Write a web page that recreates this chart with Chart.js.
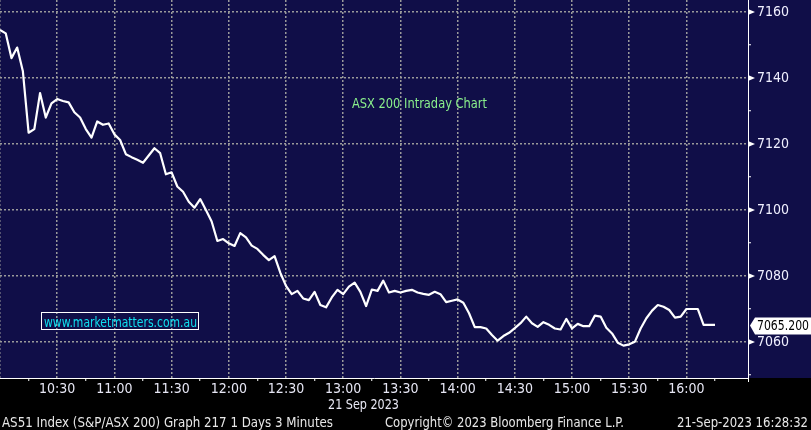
<!DOCTYPE html>
<html><head><meta charset="utf-8">
<script src="https://cdn.jsdelivr.net/npm/chart.js@4.4.0/dist/chart.umd.min.js"></script>
<style>
html,body{margin:0;padding:0;background:#000;}
#wrap{position:relative;width:811px;height:430px;background:#000;overflow:hidden;}
#c{position:absolute;left:0;top:0;}
.t{position:absolute;white-space:nowrap;transform-origin:0 50%;font-family:'Liberation Sans Narrow','DejaVu Sans Condensed','Liberation Sans',sans-serif;}
#wm{position:absolute;left:41px;top:312px;width:156px;height:16px;border:1px solid #fff;}
</style></head><body>
<div id="wrap">
<canvas id="c" width="811" height="430"></canvas>
<div id="wm"></div>
<div class="t" id="title" style="color:#8af08c">ASX 200 Intraday Chart</div>
<div class="t" id="wmt" style="color:#10e0f0">www.marketmatters.com.au</div>
<div class="t" id="date" style="color:#e8e8f4">21 Sep 2023</div>
<div class="t" id="f1" style="color:#e8e8e8">AS51 Index (S&amp;P/ASX 200) Graph 217 1 Days 3 Minutes</div>
<div class="t" id="f2" style="color:#e8e8e8">Copyright© 2023 Bloomberg Finance L.P.</div>
<div class="t" id="f3" style="color:#e8e8e8">21-Sep-2023 16:28:32</div>
</div>
<script>
// ---- data ----
const startTime = "10:00";
const stepMinutes = 3;
const values = [
7154.5,7153.5,7146,7149.2,7142,7123.4,7124.5,7135.4,7128,7132.3,
7133.6,7133,7132.6,7129.6,7128,7124.5,7121.9,7126.8,7125.8,7126.2,
7122.9,7121.2,7116.9,7116,7115.2,7114.3,7116.5,7118.7,7117.2,7110.8,
7111.4,7107.1,7105.5,7102.5,7100.7,7103.3,7100,7096.5,7090.6,7091.2,
7089.9,7089.1,7093,7091.7,7089.2,7088.2,7086.4,7084.8,7086,7081,
7077,7074.5,7075.5,7073.2,7072.7,7075.2,7071.2,7070.5,7073.5,7075.8,
7074.5,7076.8,7078,7075.2,7070.9,7075.9,7075.5,7078.6,7075,7075.5,
7075,7075.5,7075.8,7075,7074.6,7074.3,7075.2,7074.5,7072.1,7072.5,
7072.9,7071.9,7068.7,7064.5,7064.5,7064.1,7062.1,7060.4,7061.8,7062.8,
7064.2,7065.7,7067.7,7065.7,7064.6,7066,7065.2,7064.1,7063.8,7067,
7064.1,7065.5,7064.8,7064.8,7068,7067.7,7064.3,7062.6,7059.8,7058.9,
7059.3,7060.1,7064.1,7067.2,7069.5,7071.2,7070.7,7069.7,7067.4,7067.7,
7070,7070,7070,7065.2,7065.2,7065.2
];
const timeLabels = ["10:30","11:00","11:30","12:00","12:30","13:00","13:30","14:00","14:30","15:00","15:30","16:00"];
const priceLabels = [7060,7080,7100,7120,7140,7160];
const lastLabel = "7065.200";

// category times (3-minute bars) -> minutes since session start
function toMin(s){const p=s.split(':');return (+p[0])*60+(+p[1]);}
const t0 = toMin(startTime);
const points = values.map((v,i)=>({x:i*stepMinutes, y:v}));
const labelMap = {};
timeLabels.forEach(s=>{labelMap[toMin(s)-t0]=s;});

const FONT = "'Liberation Sans Narrow','DejaVu Sans Condensed','Liberation Sans',sans-serif";
const NAVY = '#100e48';
const GRID = '#9a9a9a';

const bgPlugin = {
  id:'bg',
  beforeDraw(chart){
    const {ctx, chartArea} = chart;
    ctx.save();
    ctx.fillStyle = NAVY;
    ctx.fillRect(0,0,chart.width,chartArea.bottom);
    ctx.restore();
  },
  afterDraw(chart){
    const {ctx, chartArea} = chart;
    const ys = chart.scales.y;
    ctx.save();
    // major tick flags
    ctx.fillStyle = '#ffffff';
    priceLabels.forEach(v=>{
      const py = ys.getPixelForValue(v);
      ctx.beginPath();
      ctx.moveTo(chartArea.right, py-3);
      ctx.lineTo(chartArea.right+7, py);
      ctx.lineTo(chartArea.right, py+3);
      ctx.closePath(); ctx.fill();
    });
    // last value label
    const lv = values[values.length-1];
    const y = Math.round(ys.getPixelForValue(lv))+0.5;
    const x0 = chartArea.right+2;
    ctx.beginPath();
    ctx.moveTo(x0, y);
    ctx.lineTo(x0+5, y-8);
    ctx.lineTo(chart.width, y-8);
    ctx.lineTo(chart.width, y+9);
    ctx.lineTo(x0+5, y+9);
    ctx.closePath();
    ctx.fill();
    ctx.fillStyle = '#000';
    ctx.font = '14px ' + FONT;
    ctx.textBaseline = 'middle';
    const tw = ctx.measureText(lastLabel).width;
    const target = 52;
    ctx.translate(chartArea.right+9, y+1);
    ctx.scale(Math.min(1, target/tw), 1);
    ctx.fillText(lastLabel, 0, 0);
    ctx.setTransform(1,0,0,1,0,0);
    // corner stub
    ctx.strokeStyle = '#fff'; ctx.lineWidth = 1;
    ctx.beginPath();
    ctx.moveTo(chartArea.right+0.5, chartArea.bottom);
    ctx.lineTo(chartArea.right+0.5, chartArea.bottom+4);
    ctx.stroke();
    ctx.restore();
  }
};

new Chart(document.getElementById('c'), {
  type:'line',
  data:{datasets:[{data:points, borderColor:'#ffffff', borderWidth:2.2, pointRadius:0, tension:0, borderJoinStyle:'round', fill:false}]},
  options:{
    responsive:false, animation:false, devicePixelRatio:1,
    layout:{padding:0},
    plugins:{legend:{display:false}, tooltip:{enabled:false}},
    scales:{
      x:{
        type:'linear', position:'bottom', min:0, max:392.3,
        afterFit(s){s.height=52; s.paddingLeft=0; s.paddingRight=0;},
        ticks:{stepSize:15, includeBounds:false, autoSkip:false, maxRotation:0, minRotation:0, padding:0,
          color:'#e6e6f4', font:{family:FONT, size:14},
          callback:(v)=> labelMap[v] || ''},
        grid:{
          color:(c)=> (c.tick && c.tick.value%30===0 && c.tick.value<=360) ? GRID : 'rgba(0,0,0,0)',
          tickColor:(c)=> (c.tick && c.tick.value%30!==0 && c.tick.value<=375) ? '#ffffff' : 'rgba(0,0,0,0)',
          lineWidth:1.5, tickWidth:1, tickLength:3, drawTicks:true
        },
        border:{display:true, color:'#ffffff', width:1, dash:[2,2]}
      },
      y:{
        type:'linear', position:'right', min:7049.1, max:7163.6,
        afterFit(s){s.width=63; s.paddingTop=0; s.paddingBottom=0;},
        ticks:{stepSize:10, includeBounds:false, padding:6,
          color:'#f0f0ff', font:{family:FONT, size:14},
          callback:(v)=> priceLabels.includes(v) ? String(v) : ''},
        grid:{
          color:(c)=> (c.tick && priceLabels.includes(c.tick.value)) ? GRID : 'rgba(0,0,0,0)',
          tickColor:(c)=> (c.tick && !priceLabels.includes(c.tick.value)) ? '#ffffff' : 'rgba(0,0,0,0)',
          lineWidth:1.5, tickWidth:1, tickLength:3, drawTicks:true
        },
        border:{display:true, color:'#ffffff', width:1, dash:[2,2]}
      }
    }
  },
  plugins:[bgPlugin]
});

function place(id, left, cy, width, size){
  const el=document.getElementById(id);
  el.style.fontSize=size+'px'; el.style.lineHeight=size+'px';
  el.style.left=left+'px'; el.style.top=(cy-size/2)+'px';
  const w=el.getBoundingClientRect().width;
  el.style.transform='scaleX('+(width/w)+')';
}
place('title',352,103,135,14);
place('wmt',43.5,321.5,153,14);
place('date',328,404,71,14);
place('f1',2,422,331,14);
place('f2',385,422,239,14);
place('f3',677,422,131,14);
</script>
</body></html>
